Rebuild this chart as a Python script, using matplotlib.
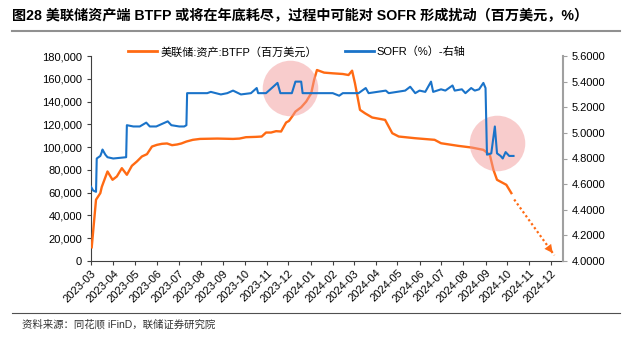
import numpy as np
import pandas as pd
import matplotlib
matplotlib.use("Agg")
import matplotlib.pyplot as plt
import matplotlib.dates as mdates
from matplotlib.ticker import FuncFormatter, MultipleLocator
from matplotlib.lines import Line2D

plt.rcParams['font.family'] = ['Liberation Sans', 'Noto Sans CJK SC']

# --- data ---
btfp_dates = ["2023-03-16", "2023-03-22", "2023-03-28", "2023-03-30", "2023-04-07", "2023-04-14",
              "2023-04-20", "2023-04-27", "2023-05-04", "2023-05-11", "2023-05-18", "2023-05-25",
              "2023-06-01", "2023-06-08", "2023-06-15", "2023-06-22", "2023-06-29", "2023-07-06",
              "2023-07-13", "2023-07-19", "2023-07-26", "2023-08-04", "2023-08-14", "2023-09-07",
              "2023-09-29", "2023-10-08", "2023-10-17", "2023-10-31", "2023-11-08", "2023-11-14",
              "2023-11-21", "2023-11-28", "2023-12-05", "2023-12-12", "2023-12-16", "2023-12-21",
              "2023-12-25", "2024-01-02", "2024-01-09", "2024-01-16", "2024-01-20", "2024-01-24",
              "2024-02-03", "2024-02-15", "2024-02-29", "2024-03-08", "2024-03-13", "2024-03-17",
              "2024-03-24", "2024-03-31", "2024-04-10", "2024-04-28", "2024-05-08", "2024-05-17",
              "2024-06-09", "2024-07-06", "2024-07-15", "2024-08-08", "2024-08-27", "2024-09-12",
              "2024-09-21", "2024-09-26", "2024-10-01", "2024-10-14", "2024-10-21"]
btfp_vals = [12000, 53800, 59600, 65000, 78600, 71300,
             74200, 81500, 75700, 83600, 87400, 91800,
             93800, 100500, 102000, 102900, 103200, 101700,
             102300, 103200, 104900, 106400, 107200, 107500,
             107200, 107500, 108700, 109000, 109300, 112800,
             112800, 114000, 113700, 121600, 123000, 127400,
             131200, 135000, 140000, 147300, 159000, 167700,
             165400, 164800, 164200, 163300, 167100, 156000,
             132700, 129700, 126000, 123900, 112200, 109300,
             107800, 106400, 103400, 101100, 99600, 97600,
             93200, 80100, 71300, 66900, 59600]

sofr_dates = ["2023-03-15", "2023-03-18", "2023-03-22", "2023-03-23", "2023-03-28", "2023-03-30",
              "2023-03-31", "2023-04-04", "2023-04-07", "2023-04-15", "2023-05-03", "2023-05-04",
              "2023-05-13", "2023-05-22", "2023-05-31", "2023-06-05", "2023-06-14", "2023-06-30",
              "2023-07-05", "2023-07-16", "2023-07-23", "2023-07-26", "2023-07-27", "2023-08-12",
              "2023-08-24", "2023-08-29", "2023-09-12", "2023-09-21", "2023-09-29", "2023-10-10",
              "2023-10-24", "2023-11-01", "2023-11-03", "2023-11-14", "2023-11-30", "2023-12-04",
              "2023-12-20", "2023-12-25", "2024-01-02", "2024-01-04", "2024-01-27", "2024-02-15",
              "2024-02-24", "2024-02-29", "2024-03-22", "2024-04-01", "2024-04-05", "2024-04-29",
              "2024-05-03", "2024-05-26", "2024-06-02", "2024-06-09", "2024-06-15", "2024-06-23",
              "2024-07-01", "2024-07-04", "2024-07-15", "2024-07-21", "2024-07-31", "2024-08-03",
              "2024-08-13", "2024-08-18", "2024-08-26", "2024-08-31", "2024-09-06", "2024-09-12",
              "2024-09-15", "2024-09-17", "2024-09-23", "2024-09-28", "2024-10-01", "2024-10-06",
              "2024-10-09", "2024-10-13", "2024-10-18", "2024-10-24"]
sofr_vals = [4.58, 4.55, 4.54, 4.80, 4.82, 4.85,
             4.87, 4.83, 4.81, 4.80, 4.81, 5.06,
             5.05, 5.05, 5.08, 5.05, 5.05, 5.09,
             5.06, 5.05, 5.05, 5.06, 5.31, 5.31,
             5.31, 5.32, 5.30, 5.31, 5.33, 5.30,
             5.31, 5.35, 5.31, 5.31, 5.39, 5.31,
             5.31, 5.40, 5.40, 5.31, 5.31, 5.31,
             5.29, 5.31, 5.31, 5.35, 5.31, 5.33,
             5.31, 5.33, 5.36, 5.31, 5.33, 5.32,
             5.40, 5.32, 5.34, 5.33, 5.37, 5.33,
             5.34, 5.31, 5.35, 5.33, 5.34, 5.39,
             5.35, 4.83, 4.84, 5.05, 4.84, 4.82,
             4.80, 4.85, 4.82, 4.82]

btfp_x = pd.to_datetime(btfp_dates)
sofr_x = pd.to_datetime(sofr_dates)
tick_dates = pd.date_range("2023-03-15", "2024-12-15", freq=pd.DateOffset(months=1))

ORANGE = '#ff6a13'
BLUE = '#1a73c9'

fig = plt.figure(figsize=(6.34, 3.41), dpi=100)
ax = fig.add_axes([91 / 634, 1 - 261 / 341, (563 - 91) / 634, (261 - 56) / 341])
ax2 = ax.twinx()

ax.plot(btfp_x, btfp_vals, color=ORANGE, lw=1.7, zorder=3)
ax2.plot(sofr_x, sofr_vals, color=BLUE, lw=1.5, zorder=3)

# dotted projection arrow
proj_x = pd.to_datetime(["2024-10-25", "2024-12-20"])
proj_y = [54000, 5000]
ax.plot(proj_x, proj_y, color=ORANGE, lw=1.6, ls=(0, (1, 1.2)), zorder=3)
ax.annotate("", xy=(mdates.date2num(proj_x[1]), proj_y[1]),
            xytext=(mdates.date2num(pd.Timestamp("2024-12-10")), 13500),
            arrowprops=dict(arrowstyle='-|>', color=ORANGE, lw=0, mutation_scale=15))

# highlight circles
ax.scatter(mdates.date2num(pd.to_datetime(["2023-12-17", "2024-10-01"])), [151600, 103900],
           s=1600, color='#f29a9a', alpha=0.5, lw=0, zorder=5, clip_on=False)

ax.set_ylim(0, 180000)
ax2.set_ylim(4.0, 5.6)
ax.set_xlim(pd.Timestamp("2023-03-15"), pd.Timestamp("2025-01-01"))
ax.yaxis.set_major_locator(MultipleLocator(20000))
ax2.yaxis.set_major_locator(MultipleLocator(0.2))
ax.yaxis.set_major_formatter(FuncFormatter(lambda v, p: f"{v:,.0f}"))
ax2.yaxis.set_major_formatter(FuncFormatter(lambda v, p: f"{v:.4f}"))
ax.set_xticks(tick_dates)
ax.set_xticklabels([d.strftime("%Y-%m") for d in tick_dates], rotation=45, ha='right',
                   rotation_mode='anchor', fontsize=8)
ax.tick_params(axis='x', length=3, pad=2, color='#404040')
ax.tick_params(axis='y', labelsize=8, length=3, color='#404040')
ax2.tick_params(axis='y', labelsize=8, length=3, color='#a0a0a0')

for s in ['top']:
    ax.spines[s].set_visible(False)
    ax2.spines[s].set_visible(False)
ax2.spines['left'].set_visible(False)
ax2.spines['bottom'].set_visible(False)
ax.spines['right'].set_visible(False)
ax.spines['left'].set_color('#404040')
ax.spines['bottom'].set_color('#404040')
ax2.spines['right'].set_color('#a0a0a0')
ax2.spines['right'].set_linewidth(1.5)

handles = [Line2D([], [], color=ORANGE, lw=2), Line2D([], [], color=BLUE, lw=2)]
fig.legend(handles, ["美联储:资产:BTFP（百万美元）", "SOFR（%）-右轴"], ncol=2,
           loc='center left', bbox_to_anchor=(118 / 634, 1 - 52 / 341), frameon=False,
           fontsize=8, handlelength=2.6, columnspacing=2.5, handletextpad=0.3)

fig.text(12 / 634, 1 - 16 / 341, "图28 美联储资产端 BTFP 或将在年底耗尽，过程中可能对 SOFR 形成扰动（百万美元，%）",
         fontsize=10.2, fontweight='bold', va='center', ha='left')
fig.add_artist(Line2D([12 / 634, 620 / 634], [1 - 31 / 341] * 2, color='#909090', lw=1.5))
fig.add_artist(Line2D([12 / 634, 620 / 634], [1 - 313 / 341] * 2, color='#505050', lw=0.8))
fig.text(22 / 634, 1 - 324 / 341, "资料来源：同花顺 iFinD，联储证券研究院", fontsize=7.5,
         va='center', ha='left', color='#333333')

fig.savefig("out.png", dpi=100)
